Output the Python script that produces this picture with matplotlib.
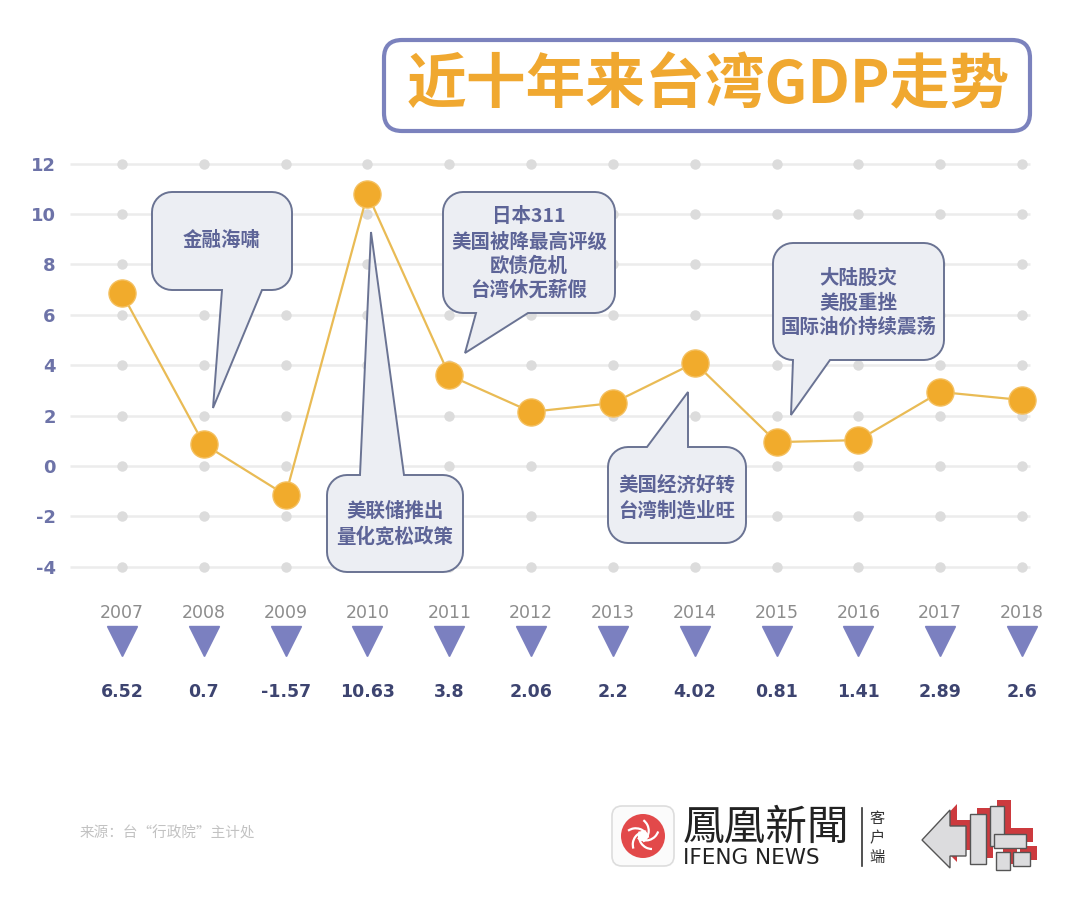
import numpy as np
import matplotlib
matplotlib.use('Agg')
import matplotlib.pyplot as plt
from matplotlib import transforms
from matplotlib.patches import Polygon, Circle, FancyBboxPatch, Arc

plt.rcParams['font.family'] = ['Noto Sans CJK SC', 'DejaVu Sans']

# data
years = list(range(2007, 2019))
gdp_points = [6.85, 0.87, -1.15, 10.8, 3.6, 2.15, 2.5, 4.1, 0.95, 1.03, 2.94, 2.62]
gdp_labels = ['6.52', '0.7', '-1.57', '10.63', '3.8', '2.06', '2.2', '4.02',
              '0.81', '1.41', '2.89', '2.6']
y_ticks = [-4, -2, 0, 2, 4, 6, 8, 10, 12]

title = '近十年来台湾GDP走势'
source = '来源：台“行政院”主计处'
events = [
    ['金融海啸'],
    ['美联储推出', '量化宽松政策'],
    ['日本311', '美国被降最高评级', '欧债危机', '台湾休无薪假'],
    ['美国经济好转', '台湾制造业旺'],
    ['大陆股灾', '美股重挫', '国际油价持续震荡'],
]

ORANGE = '#f1ab2c'
LINE = '#e9bb55'
PURPLE = '#7b80c0'
TXT = '#5d6497'

fig = plt.figure(figsize=(10.8, 9.05), dpi=100)

# main plot area
ax = fig.add_axes([60 / 1080, 1 - 580 / 905, 990 / 1080, 430 / 905])
ax.set_xlim(2006.2422, 2018.3418)
ax.set_ylim(-4.52, 12.54)
ax.hlines(y_ticks, 2006.364, 2018.098, color='#ececec', lw=1.8, zorder=1)
for t in y_ticks:
    ax.plot(years, [t] * len(years), 'o', ms=7.5, color='#dcdcdc', mec='none', zorder=2)
ax.plot(years, gdp_points, color=LINE, lw=1.6, zorder=3)
ax.plot(years, gdp_points, 'o', ms=19.5, color=ORANGE, mec='#f4c060', mew=1, zorder=4)

ax.set_yticks(y_ticks)
ax.set_yticklabels([str(t) for t in y_ticks])
ax.set_xticks([])
ax.tick_params(axis='y', length=0, pad=3, labelcolor='#6d73a8', labelsize=13)
for lab in ax.get_yticklabels():
    lab.set_fontweight('bold')
    lab.set_family('DejaVu Sans')
for s in ax.spines.values():
    s.set_visible(False)
ax.patch.set_alpha(0)

# years, triangles, values under the chart
trans = transforms.blended_transform_factory(ax.transData, fig.transFigure)
for yr, lab in zip(years, gdp_labels):
    ax.text(yr, 1 - 613 / 905, str(yr), transform=trans, ha='center', va='center',
            fontsize=12.5, color='#8c8c8c', family='DejaVu Sans', clip_on=False)
    ax.text(yr, 1 - 692 / 905, lab, transform=trans, ha='center', va='center',
            fontsize=12.5, color='#3d4470', fontweight='bold', family='DejaVu Sans',
            clip_on=False)
ax.plot(years, [1 - 641 / 905] * len(years), 'v', ms=21, color=PURPLE, mec=PURPLE,
        transform=trans, clip_on=False)

# overlay in pixel coordinates
ov = fig.add_axes([0, 0, 1, 1])
ov.set_xlim(0, 1080)
ov.set_ylim(905, 0)
ov.axis('off')
ov.patch.set_alpha(0)


def rounded(x0, y0, x1, y1, r, side=None, base=None, tip=None):
    def arc(cx, cy, a0, a1):
        th = np.radians(np.linspace(a0, a1, 10))
        return list(zip(cx + r * np.cos(th), cy + r * np.sin(th)))
    pts = []
    pts += [(x0 + r, y0)]
    if side == 'top':
        pts += [(base[0], y0), tip, (base[1], y0)]
    pts += [(x1 - r, y0)]
    pts += arc(x1 - r, y0 + r, -90, 0)
    pts += arc(x1 - r, y1 - r, 0, 90)
    if side == 'bottom':
        pts += [(base[1], y1), tip, (base[0], y1)]
    pts += arc(x0 + r, y1 - r, 90, 180)
    pts += arc(x0 + r, y0 + r, 180, 270)
    return pts


def callout(lines, box, side, base, tip, line_ys, size=14):
    x0, y0, x1, y1 = box
    pts = rounded(x0, y0, x1, y1, 20, side, base, tip)
    ov.add_patch(Polygon(pts, closed=True, fc='#eceef3', ec='#6a7393', lw=1.4, zorder=5))
    cx = (x0 + x1) / 2
    for txt, yy in zip(lines, line_ys):
        ov.text(cx, yy, txt, ha='center', va='center', fontsize=size, color=TXT,
                fontweight='bold', zorder=6)


callout(events[0], (152, 192, 292, 290), 'bottom', (222, 262), (213, 408), [240])
callout(events[1], (327, 475, 463, 572), 'top', (360, 404), (371, 232), [511, 537])
callout(events[2], (443, 192, 615, 313), 'bottom', (476, 528), (465, 353),
        [216, 242, 266, 290])
callout(events[3], (608, 447, 746, 543), 'top', (647, 688), (688, 392), [485, 511])
callout(events[4], (773, 243, 944, 360), 'bottom', (793, 830), (791, 415),
        [278, 303, 327])

# title
ov.add_patch(FancyBboxPatch((384, 40), 646, 91, boxstyle='round,pad=0,rounding_size=18',
                            fc='white', ec='#7b82bd', lw=3, zorder=5))
ov.text(708, 86, title, ha='center', va='center', fontsize=43, color='#f0a830',
        fontweight='black', zorder=6)

# footer
ov.text(80, 833, source, ha='left', va='center', fontsize=10.5, color='#c2c2c2')
ov.add_patch(FancyBboxPatch((612, 806), 62, 60, boxstyle='round,pad=0,rounding_size=10',
                            fc='#fbfbfb', ec='#dddddd', lw=1.2, zorder=5))
ov.add_patch(Circle((643, 836), 22, fc='#e2494a', ec='none', zorder=6))
for k in range(5):
    a = 72 * k
    ov.add_patch(Arc((643 + 9 * np.cos(np.radians(a)), 836 + 9 * np.sin(np.radians(a))),
                     26, 26, theta1=a + 90, theta2=a + 200, color='white', lw=1.6,
                     zorder=7))
ov.add_patch(Circle((643, 836), 5, fc='white', ec='none', zorder=7))
ov.text(683, 828, '鳳凰新聞', ha='left', va='center', fontsize=30, color='#222222',
        family=['Noto Sans CJK TC', 'DejaVu Sans'])
ov.text(683, 858, 'IFENG NEWS', ha='left', va='center', fontsize=15.5, color='#222222',
        family='DejaVu Sans')
ov.plot([862, 862], [808, 866], color='#333333', lw=1.2)
for ch, yy in zip('客户端', [818, 838, 857]):
    ov.text(877, yy, ch, ha='center', va='center', fontsize=11, color='#333333')

# blocky arrow logo: red shadow behind light gray blocks
blocks = [
    [(922, 840), (950, 810), (950, 826), (966, 826), (966, 856), (950, 856), (950, 868)],
    [(970, 814), (986, 814), (986, 864), (970, 864)],
    [(990, 806), (1004, 806), (1004, 846), (990, 846)],
    [(994, 834), (1026, 834), (1026, 848), (994, 848)],
    [(996, 852), (1010, 852), (1010, 870), (996, 870)],
    [(1013, 852), (1030, 852), (1030, 866), (1013, 866)],
]
for b in blocks:
    ov.add_patch(Polygon([(x + 7, y - 6) for x, y in b], closed=True, fc='#cc3a3e',
                         ec='none', zorder=5))
for b in blocks:
    ov.add_patch(Polygon(b, closed=True, fc='#dcdcde', ec='#555555', lw=1.0, zorder=6))

fig.savefig('out.png', dpi=100, facecolor='white')
